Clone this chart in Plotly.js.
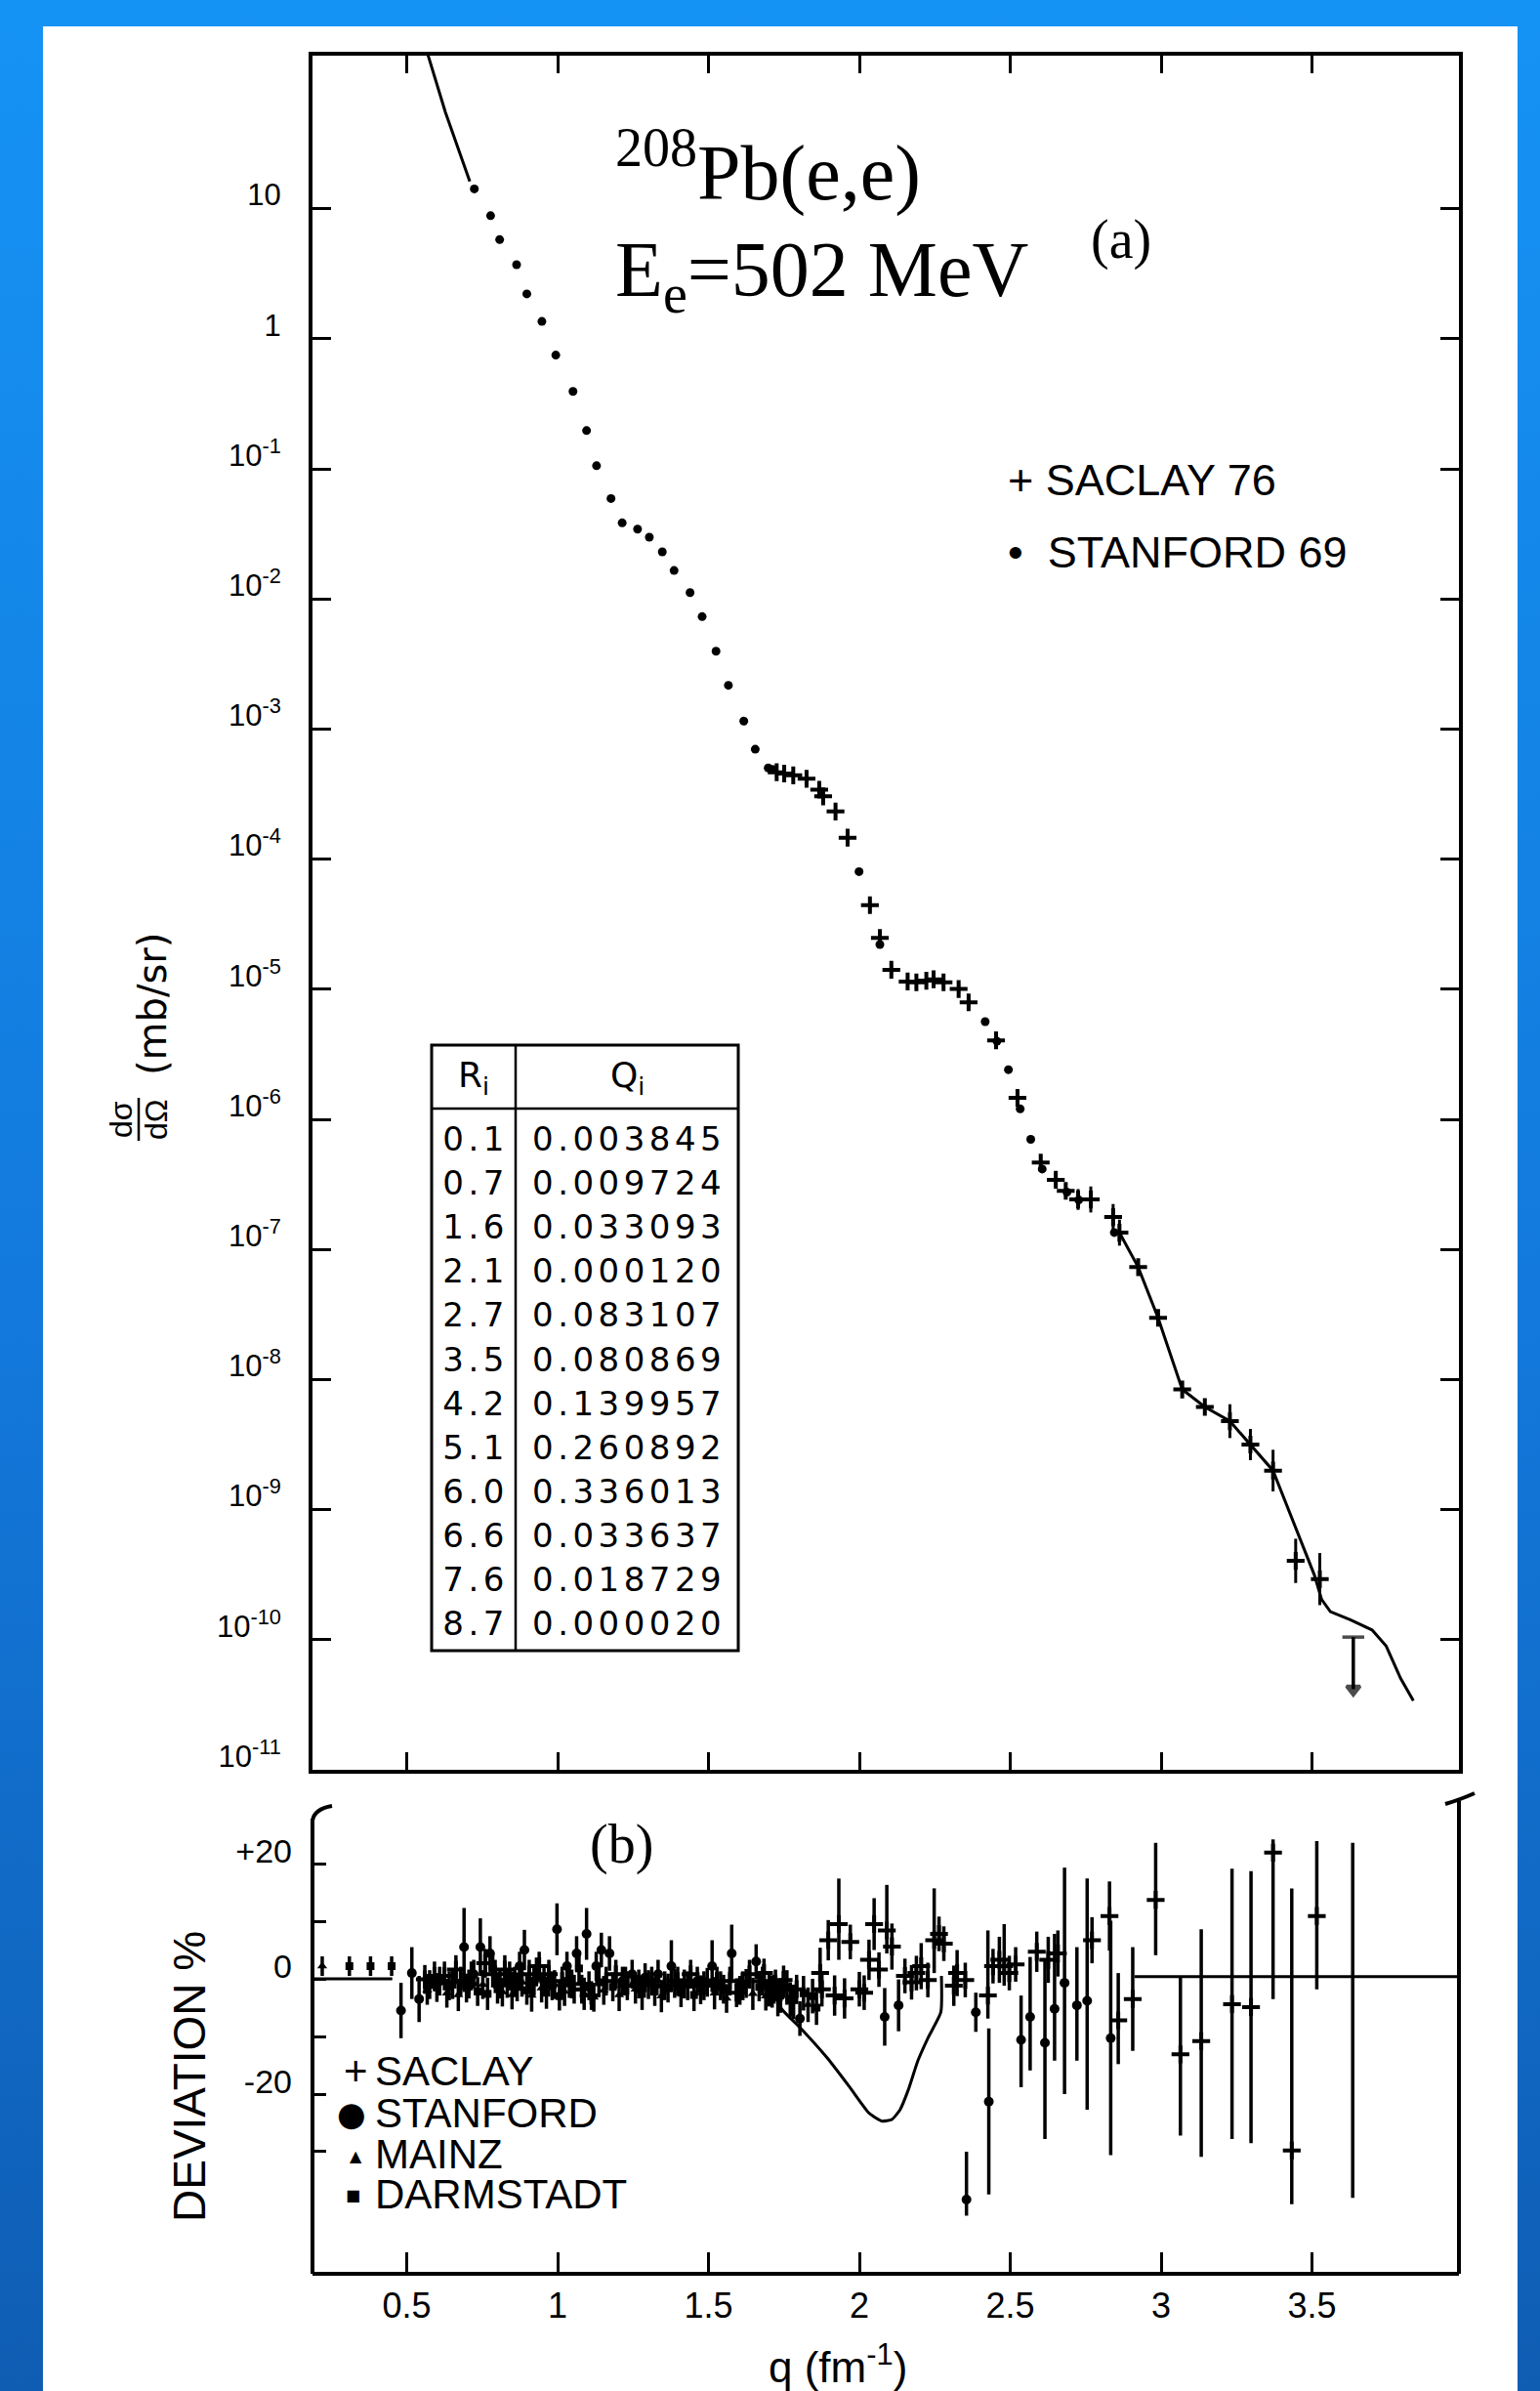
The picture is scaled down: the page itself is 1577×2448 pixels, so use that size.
<!DOCTYPE html>
<html>
<head>
<meta charset="utf-8">
<script src="https://cdn.plot.ly/plotly-3.0.1.min.js"></script>
<style>
html,body{margin:0;padding:0;}
body{width:1577px;height:2448px;position:relative;overflow:hidden;
  background:linear-gradient(to bottom,#1593f5 0%,#1379dc 55%,#0f5db3 100%);}
#panel{position:absolute;left:44px;top:27px;width:1510px;height:2421px;background:#ffffff;}
#chart{position:absolute;left:0;top:0;width:1577px;height:2448px;}
</style>
</head>
<body>
<div id="panel"></div>
<div id="chart"></div>
<script>
// ---------------- DATA ----------------
// Panel (a): 208Pb(e,e) cross section, q in fm^-1, log10 of dσ/dΩ in mb/sr
const stanfordQ = [0.724,0.778,0.808,0.864,0.898,0.948,0.994,1.051,1.096,1.129,1.177,1.214,1.265,1.304,1.347,1.386,1.439,1.479,1.525,1.566,1.617,1.655,1.698,1.712,1.999,2.068,2.417,2.456,2.494,2.533,2.568,2.606,2.688,2.727,2.845];
const stanfordLog10Sigma = [1.152,0.946,0.762,0.569,0.345,0.133,-0.126,-0.405,-0.706,-0.976,-1.228,-1.415,-1.463,-1.525,-1.638,-1.781,-1.951,-2.136,-2.402,-2.664,-2.939,-3.155,-3.299,-3.310,-4.096,-4.656,-5.249,-5.400,-5.618,-5.920,-6.154,-6.382,-6.560,-6.620,-6.870];

const saclayQ = [1.726,1.751,1.781,1.825,1.867,1.880,1.921,1.961,2.035,2.068,2.106,2.160,2.189,2.222,2.246,2.279,2.329,2.362,2.453,2.524,2.601,2.651,2.684,2.725,2.767,2.841,2.862,2.924,2.990,3.070,3.145,3.228,3.296,3.371,3.446,3.526];
const saclayLog10Sigma = [-3.332,-3.342,-3.356,-3.382,-3.466,-3.517,-3.634,-3.835,-4.354,-4.606,-4.851,-4.941,-4.947,-4.934,-4.924,-4.947,-4.998,-5.101,-5.393,-5.835,-6.332,-6.465,-6.550,-6.616,-6.616,-6.751,-6.871,-7.136,-7.526,-8.076,-8.211,-8.320,-8.500,-8.700,-9.394,-9.534];
const saclayLog10Err = [0.04,0.04,0.04,0.04,0.04,0.05,0.05,0.05,0.05,0.05,0.04,0.03,0.03,0.03,0.03,0.03,0.04,0.05,0.05,0.06,0.06,0.05,0.05,0.08,0.10,0.10,0.10,0.03,0.03,0.03,0.03,0.13,0.12,0.16,0.17,0.20];

const theoryLowQ = [0.568,0.628,0.709];
const theoryLowLog10Sigma = [2.20,1.742,1.210];
const theoryHighQ = [2.847,2.862,2.924,2.990,3.070,3.145,3.228,3.296,3.371,3.383,3.508,3.532,3.561,3.627,3.699,3.746,3.794,3.836];
const theoryHighLog10Sigma = [-6.856,-6.871,-7.136,-7.526,-8.076,-8.211,-8.320,-8.500,-8.700,-8.771,-9.503,-9.691,-9.784,-9.847,-9.925,-10.049,-10.298,-10.469];

const limitQ = [3.637];
const limitLog10Top = [-9.98];
const limitLog10Bottom = [-10.38];

// Table of fit parameters
const tableR = ['0.1','0.7','1.6','2.1','2.7','3.5','4.2','5.1','6.0','6.6','7.6','8.7'];
const tableQ = ['0.003845','0.009724','0.033093','0.000120','0.083107','0.080869','0.139957','0.260892','0.336013','0.033637','0.018729','0.000020'];

// Panel (b): deviation in %
const devStanfordQ = [0.481,0.517,0.541,0.576,0.609,0.641,0.690,0.722,0.744,0.776,0.809,0.841,0.874,0.890,0.922,0.955,0.982,0.998,1.031,1.063,1.096,1.128,1.145,1.172,1.215,1.247,1.290,1.333,1.377,1.420,1.463,1.512,1.550,1.577,1.614,1.658,1.701,1.739,1.771,1.803,2.084,2.130,2.355,2.386,2.429,2.536,2.566,2.615,2.647,2.680,2.721,2.755,2.833];
const devStanford = [-5.5,1.0,-3.5,-1.0,-0.4,-1.2,5.5,0.8,5.5,4.4,-0.9,0.5,2.2,5.0,-0.4,-0.4,-1.2,8.6,2.2,4.4,7.8,2.2,5.0,4.4,-0.4,0.8,0.2,0.8,2.2,-0.9,-0.4,2.2,-1.8,4.4,-1.2,3.0,-1.8,-2.9,-3.6,-6.9,-6.6,-4.6,-38.3,-5.8,-21.3,-10.6,-6.6,-11.1,-5.2,-0.7,-4.6,-3.8,-10.3];
const devStanfordErrPlus = [4.8,4.5,4.0,2.5,2.5,2.5,6.8,2.5,5.0,3.0,2.5,2.5,2.5,3.5,2.5,2.5,2.5,4.5,2.5,3.0,4.5,2.5,3.0,3.0,2.5,2.5,2.5,2.5,4.5,2.5,2.5,4.5,2.5,5.0,2.5,3.0,3.0,3.0,3.0,3.0,5.0,4.5,8.3,3.4,12.7,7.7,10.4,14.4,13.0,20.0,10.1,21.2,20.4];
const devStanfordErrMinus = [4.8,4.5,4.0,2.5,2.5,2.5,6.8,2.5,5.0,3.0,2.5,2.5,2.5,3.5,2.5,2.5,2.5,4.5,2.5,3.0,4.5,2.5,3.0,3.0,2.5,2.5,2.5,2.5,4.5,2.5,2.5,4.5,2.5,5.0,2.5,3.0,3.0,3.0,3.0,3.0,5.0,4.5,2.8,3.4,16.1,8.2,9.3,16.7,9.0,19.3,9.6,18.9,20.3];

const devSaclayQ = [0.560,0.592,0.625,0.663,0.679,0.706,0.760,0.793,0.825,0.858,0.906,0.939,0.971,1.015,1.047,1.080,1.112,1.161,1.193,1.231,1.269,1.312,1.355,1.398,1.441,1.485,1.528,1.571,1.593,1.636,1.679,1.722,1.684,1.717,1.749,1.792,
  1.870,1.876,1.897,1.918,1.932,1.951,1.970,2.000,2.016,2.032,2.049,2.065,2.091,2.108,2.151,2.173,2.189,2.205,2.227,2.248,2.264,2.280,2.313,2.324,2.351,2.426,2.443,2.464,2.480,2.497,2.518,2.588,2.626,2.658,2.771,2.829,2.858,2.906,2.982,3.064,3.133,3.235,3.298,3.371,3.433,3.516];
const devSaclay = [-0.1,0.5,0.5,1.6,-0.4,-0.9,2.7,0.8,1.6,-0.4,0.8,2.2,0.8,-0.4,-0.9,-1.8,-2.9,-0.4,0.8,-1.2,-0.9,-0.4,-1.2,-0.4,0.8,-1.2,-0.4,-0.4,-2.4,0.8,-0.4,-0.9,1.0,-1.8,-0.2,-1.8,
  1.0,-1.8,6.7,-2.9,9.5,-3.4,6.4,-1.8,-2.4,3.3,9.5,1.6,8.4,5.6,0.5,-0.6,1.0,2.2,-0.2,6.7,7.8,6.1,-1.2,1.0,-0.2,-2.9,2.2,3.3,2.2,1.0,2.5,4.7,3.3,4.4,6.7,10.9,-7.2,-3.5,13.7,-13.1,-10.8,-4.4,-4.9,21.9,-29.8,10.9];
const devSaclayErrPlus = [2.5,2.5,2.5,2.5,2.5,2.5,2.5,2.5,2.5,2.5,2.5,2.5,2.5,2.5,2.5,2.5,2.5,2.5,2.5,2.5,2.5,2.5,2.5,2.5,2.5,2.5,2.5,2.5,2.5,2.5,2.5,2.5,2.5,2.5,2.5,2.5,
  4.4,3.0,3.5,3.5,7.9,3.5,3.0,3.0,3.0,3.5,4.5,3.0,7.9,4.0,3.0,3.0,3.0,4.0,3.0,9.0,3.0,3.0,3.5,4.0,3.0,11.3,3.0,4.0,7.3,3.0,3.0,3.5,4.0,4.0,4.0,6.0,8.2,9.0,9.9,13.6,19.4,23.5,23.6,2.3,45.5,13.0];
const devSaclayErrMinus = [2.5,2.5,2.5,2.5,2.5,2.5,2.5,2.5,2.5,2.5,2.5,2.5,2.5,2.5,2.5,2.5,2.5,2.5,2.5,2.5,2.5,2.5,2.5,2.5,2.5,2.5,2.5,2.5,2.5,2.5,2.5,2.5,2.5,2.5,2.5,2.5,
  3.5,3.0,3.5,3.5,6.2,3.5,3.0,3.0,3.0,3.5,4.5,3.0,4.0,4.0,3.0,3.0,3.0,4.0,3.0,5.7,3.0,3.0,3.5,4.0,3.0,4.0,3.0,4.0,3.4,3.0,3.0,3.5,4.0,4.0,4.0,6.0,7.6,9.0,9.6,14.1,20.1,23.4,23.6,25.4,9.3,12.7];
const devBarOnlyQ = [3.635];
const devBarOnly = [-7.2];
const devBarOnlyErr = [30.8];

// Mainz and Darmstadt points inside the dense band
const devMainzQ = [0.220,0.568,0.633,0.671,0.714,0.752,0.785,0.817,0.849,0.882,0.914,0.947,0.990,1.023,1.055,1.088,1.120,1.153,1.204,1.258,1.301,1.344,1.388,1.431,1.474,1.520,1.560,1.604,1.647,1.690,1.730,1.782,1.830];
const devMainz = [2.2,-2.0,-2.5,-2.8,0.5,-1.0,1.5,-2.3,-2.8,-0.6,-2.9,-1.6,-1.0,-2.2,-1.8,-2.6,-3.2,-2.0,-2.8,-1.8,-1.0,-3.0,-0.8,-1.2,-1.9,-2.5,-3.4,-2.0,-2.6,-3.0,-3.5,-4.0,-4.5];
const devMainzErr = [1.7,2.5,2.5,2.8,2.5,2.5,3.0,2.5,2.5,2.5,2.8,2.5,2.5,2.5,2.5,2.8,2.5,2.5,2.8,2.5,2.5,2.8,2.5,2.5,2.5,2.8,2.5,2.5,2.8,2.5,3.0,3.0,3.0];
const devDarmstadtQ = [0.310,0.380,0.450,0.600,0.652,0.698,0.735,0.768,0.801,0.833,0.866,0.898,0.930,0.963,1.006,1.039,1.071,1.104,1.137,1.183,1.225,1.280,1.322,1.366,1.409,1.452,1.496,1.540,1.625,1.668,1.711,1.760,1.815,1.845,1.858];
const devDarmstadt = [2.2,2.2,2.2,-1.5,-1.0,-1.6,-2.2,-2.6,-1.8,-0.8,-1.4,-2.0,1.2,-2.4,-3.0,-0.8,1.8,-1.2,-0.6,-1.4,-0.4,-2.6,-2.2,-1.6,-2.4,-2.8,-0.6,-1.2,-0.8,-1.4,-2.2,-1.5,-2.5,-3.0,-5.0];
const devDarmstadtErr = [1.7,1.7,1.7,2.5,2.5,2.5,2.5,2.8,2.5,2.5,2.5,2.5,2.5,2.8,2.5,2.5,3.0,2.5,2.5,2.5,2.5,2.8,2.5,2.5,2.5,2.8,2.5,2.5,2.5,2.5,2.8,3.0,3.0,3.0,3.0];

const refLeftQ = [0.188,0.452];
const refLeftDev = [0.0,0.0];
const refRightQ = [2.912,3.987];
const refRightDev = [0.4,0.4];
const dipQ = [1.700,1.742,1.806,1.893,1.968,2.032,2.075,2.108,2.135,2.162,2.194,2.227,2.270,2.272];
const dipDev = [0.0,-5.2,-8.6,-13.7,-18.8,-23.3,-24.7,-24.4,-22.7,-19.3,-14.2,-10.3,-5.8,0.5];

// Ticks
const qTicks = [0.5,1,1.5,2,2.5,3,3.5];
const qTickText = ['0.5','1','1.5','2','2.5','3','3.5'];
const sigmaTickExp = [1,0,-1,-2,-3,-4,-5,-6,-7,-8,-9,-10,-11];
const devTicks = [20,10,0,-10,-20,-30];
const devTickText = ['+20','','0','','-20',''];

// ---------------- FIGURE ----------------
const W = 1577, H = 2448;
const X = p => p / W;
const Y = p => 1 - p / H;
const pow10 = a => a.map(v => Math.pow(10, v));
const BLACK = '#000000';
const SANS = 'Liberation Sans, Arial, sans-serif';
const SERIF = 'Liberation Serif, Times New Roman, serif';
const ROUND = 'DejaVu Sans, Verdana, sans-serif';

const sigmaTickVals = sigmaTickExp.map(e => Math.pow(10, e));
const sigmaTickText = sigmaTickExp.map(e => e === 1 ? '10' : (e === 0 ? '1' : '10<sup>' + e + '</sup>'));

const saclaySigma = pow10(saclayLog10Sigma);

const traces = [
  {type:'scatter', mode:'lines', x:theoryLowQ, y:pow10(theoryLowLog10Sigma), xaxis:'x', yaxis:'y',
   line:{color:BLACK, width:3}, hoverinfo:'skip', showlegend:false},
  {type:'scatter', mode:'lines', x:theoryHighQ, y:pow10(theoryHighLog10Sigma), xaxis:'x', yaxis:'y',
   line:{color:BLACK, width:3}, hoverinfo:'skip', showlegend:false},
  {type:'scatter', mode:'markers', name:'STANFORD 69', x:stanfordQ, y:pow10(stanfordLog10Sigma), xaxis:'x', yaxis:'y',
   marker:{symbol:'circle', size:9, color:BLACK}, showlegend:false},
  {type:'scatter', mode:'markers', name:'SACLAY 76', x:saclayQ, y:saclaySigma, xaxis:'x', yaxis:'y',
   marker:{symbol:'cross-thin', size:13, color:BLACK, line:{color:BLACK, width:4}},
   error_y:{type:'data', symmetric:false,
     array: saclaySigma.map((v,i) => v*(Math.pow(10, saclayLog10Err[i]) - 1)),
     arrayminus: saclaySigma.map((v,i) => v*(1 - Math.pow(10, -saclayLog10Err[i]))),
     color:BLACK, thickness:3, width:0}, showlegend:false},
  {type:'scatter', mode:'lines+markers', x:[limitQ[0], limitQ[0]], y:[Math.pow(10,limitLog10Top[0]), Math.pow(10,limitLog10Bottom[0])],
   xaxis:'x', yaxis:'y', line:{color:BLACK, width:3.5},
   marker:{symbol:['line-ew','triangle-down'], size:[16,12], color:BLACK, line:{color:BLACK, width:3.5}}, showlegend:false},

  // panel (b)
  {type:'scatter', mode:'lines', x:refLeftQ, y:refLeftDev, xaxis:'x2', yaxis:'y2', line:{color:BLACK, width:3}, showlegend:false},
  {type:'scatter', mode:'lines', x:refRightQ, y:refRightDev, xaxis:'x2', yaxis:'y2', line:{color:BLACK, width:3}, showlegend:false},
  {type:'scatter', mode:'lines', x:dipQ, y:dipDev, xaxis:'x2', yaxis:'y2', line:{color:BLACK, width:3, shape:'spline', smoothing:0.5}, showlegend:false},
  {type:'scatter', mode:'markers', name:'MAINZ', x:devMainzQ, y:devMainz, xaxis:'x2', yaxis:'y2',
   marker:{symbol:'triangle-up', size:9, color:BLACK},
   error_y:{type:'data', array:devMainzErr, color:BLACK, thickness:3.5, width:0}, showlegend:false},
  {type:'scatter', mode:'markers', name:'DARMSTADT', x:devDarmstadtQ, y:devDarmstadt, xaxis:'x2', yaxis:'y2',
   marker:{symbol:'square', size:8, color:BLACK},
   error_y:{type:'data', array:devDarmstadtErr, color:BLACK, thickness:3.5, width:0}, showlegend:false},
  {type:'scatter', mode:'markers', name:'STANFORD', x:devStanfordQ, y:devStanford, xaxis:'x2', yaxis:'y2',
   marker:{symbol:'circle', size:10, color:BLACK},
   error_y:{type:'data', symmetric:false, array:devStanfordErrPlus, arrayminus:devStanfordErrMinus, color:BLACK, thickness:3.5, width:0}, showlegend:false},
  {type:'scatter', mode:'markers', name:'SACLAY', x:devSaclayQ, y:devSaclay, xaxis:'x2', yaxis:'y2',
   marker:{symbol:'cross-thin', size:13, color:BLACK, line:{color:BLACK, width:4}},
   error_y:{type:'data', symmetric:false, array:devSaclayErrPlus, arrayminus:devSaclayErrMinus, color:BLACK, thickness:3.5, width:0}, showlegend:false},
  {type:'scatter', mode:'markers', x:devBarOnlyQ, y:devBarOnly, xaxis:'x2', yaxis:'y2',
   marker:{size:1, color:BLACK}, error_y:{type:'data', array:devBarOnlyErr, color:BLACK, thickness:3.5, width:0}, showlegend:false}
];

const xRange = [0.5 + (320 - 416.5)/309, 0.5 + (1494 - 416.5)/309];

function ann(text, x, y, font, extra) {
  return Object.assign({text:text, x:X(x), y:Y(y), xref:'paper', yref:'paper', showarrow:false,
    xanchor:'center', yanchor:'middle', font:Object.assign({color:BLACK}, font)}, extra || {});
}

const annotations = [];
// table (first, so indices are known)
annotations.push(ann('R<sub>i</sub>', 485, 1103, {family:ROUND, size:36}));
annotations.push(ann('Q<sub>i</sub>', 642, 1103, {family:ROUND, size:36}));
const tableStart = annotations.length;
tableR.forEach((r,i) => {
  annotations.push(ann(r, 487, 1166 + i*45.1, {family:ROUND, size:34}));
  annotations.push(ann(tableQ[i], 644, 1166 + i*45.1, {family:ROUND, size:34}));
});
const tableEnd = annotations.length;

annotations.push(ann('<sup>208</sup>Pb(e,e)', 628, 224, {family:SERIF, size:80}, {xanchor:'left', yanchor:'bottom'}));
annotations.push(ann('E<sub>e</sub>=502 MeV', 628, 334, {family:SERIF, size:80}, {xanchor:'left', yanchor:'bottom'}));
annotations.push(ann('(a)', 1148, 246, {family:SERIF, size:56}));
annotations.push(ann('+ SACLAY 76', 1030, 492, {family:SANS, size:45}, {xanchor:'left'}));
annotations.push(ann('•  STANFORD 69', 1030, 565, {family:SANS, size:45}, {xanchor:'left'}));
annotations.push(ann('(b)', 636, 1888, {family:SERIF, size:56}));

// bottom legend
annotations.push(ann('+', 364, 2120, {family:SANS, size:42}));
annotations.push(ann('SACLAY', 382, 2120, {family:SANS, size:42}, {xanchor:'left'}));
annotations.push(ann('●', 360, 2164, {family:ROUND, size:34}));
annotations.push(ann('STANFORD', 382, 2163, {family:SANS, size:42}, {xanchor:'left'}));
annotations.push(ann('▲', 364, 2207, {family:ROUND, size:16}));
annotations.push(ann('MAINZ', 382, 2205, {family:SANS, size:42}, {xanchor:'left'}));
annotations.push(ann('■', 361, 2247, {family:ROUND, size:16}));
annotations.push(ann('DARMSTADT', 382, 2246, {family:SANS, size:42}, {xanchor:'left'}));

// axis titles
annotations.push(ann('DEVIATION %', 194, 2126, {family:SANS, size:46}, {textangle:-90}));
annotations.push(ann('q (fm<sup>-1</sup>)', 858, 2420, {family:SANS, size:44}));
annotations.push(ann('dσ', 124, 1146, {family:SANS, size:32}, {textangle:-90}));
annotations.push(ann('dΩ', 160, 1146, {family:SANS, size:32}, {textangle:-90}));
annotations.push(ann('(mb/sr)', 156, 1028, {family:ROUND, size:40}, {textangle:-90}));

const shapes = [
  // panel (b) left and right frame lines with hooked tops
  {type:'line', xref:'paper', yref:'paper', x0:X(320), x1:X(320), y0:Y(2328), y1:Y(1862), line:{color:BLACK, width:4}},
  {type:'path', xref:'paper', yref:'paper', path:`M ${X(320)},${Y(1864)} Q ${X(322)},${Y(1852)} ${X(340)},${Y(1849)}`, line:{color:BLACK, width:4}},
  {type:'line', xref:'paper', yref:'paper', x0:X(1494), x1:X(1494), y0:Y(2328), y1:Y(1844), line:{color:BLACK, width:4}},
  {type:'path', xref:'paper', yref:'paper', path:`M ${X(1480)},${Y(1847)} Q ${X(1494)},${Y(1843)} ${X(1510)},${Y(1836)}`, line:{color:BLACK, width:4}},
  // table
  {type:'rect', xref:'paper', yref:'paper', x0:X(442), x1:X(756), y0:Y(1690), y1:Y(1070), line:{color:BLACK, width:3}},
  {type:'line', xref:'paper', yref:'paper', x0:X(528), x1:X(528), y0:Y(1690), y1:Y(1070), line:{color:BLACK, width:2.5}},
  {type:'line', xref:'paper', yref:'paper', x0:X(442), x1:X(756), y0:Y(1135), y1:Y(1135), line:{color:BLACK, width:2.5}},
  // fraction bar of dσ/dΩ
  {type:'line', xref:'paper', yref:'paper', x0:X(142), x1:X(142), y0:Y(1124), y1:Y(1168), line:{color:BLACK, width:2.5}}
];

const layout = {
  width: W, height: H,
  margin:{l:0, r:0, t:0, b:0, pad:0},
  paper_bgcolor:'rgba(0,0,0,0)', plot_bgcolor:'rgba(0,0,0,0)',
  font:{family:SANS, color:BLACK},
  showlegend:false, hovermode:false,
  xaxis:{domain:[X(320), X(1494)], range:xRange, anchor:'y', showline:true, linewidth:4, linecolor:BLACK,
    mirror:'ticks', ticks:'inside', ticklen:18, tickwidth:3, tickcolor:BLACK, tickvals:qTicks,
    showticklabels:false, showgrid:false, zeroline:false, fixedrange:true},
  yaxis:{domain:[Y(1812), Y(57)], type:'log', range:[-11, 2.176], anchor:'x', showline:true, linewidth:4, linecolor:BLACK,
    mirror:'ticks', ticks:'inside', ticklen:19, tickwidth:3, tickcolor:BLACK,
    tickvals:sigmaTickVals, ticktext:sigmaTickText, tickfont:{family:SANS, size:31, color:BLACK},
    ticklabelstandoff:22, ticklabelshift:-14, showgrid:false, zeroline:false, fixedrange:true},
  xaxis2:{domain:[X(320), X(1494)], range:xRange, anchor:'y2', showline:true, linewidth:4, linecolor:BLACK,
    ticks:'inside', ticklen:20, tickwidth:3, tickcolor:BLACK, tickvals:qTicks, ticktext:qTickText,
    tickfont:{family:SANS, size:36, color:BLACK}, ticklabelstandoff:0,
    showgrid:false, zeroline:false, fixedrange:true},
  yaxis2:{domain:[Y(2326), Y(1842)], range:[-50.85, 31.19], anchor:'x2', showline:false,
    ticks:'inside', ticklen:14, tickwidth:3, tickcolor:BLACK, tickvals:devTicks, ticktext:devTickText,
    tickfont:{family:SANS, size:34, color:BLACK}, ticklabelstandoff:20, ticklabelshift:-13,
    showgrid:false, zeroline:false, fixedrange:true},
  annotations: annotations,
  shapes: shapes
};

// letter spacing for the table digits
const css = [];
for (let i = tableStart; i < tableEnd; i++) css.push(`g.annotation[data-index="${i}"] text`);
const st = document.createElement('style');
st.textContent = css.join(',') + '{letter-spacing:4.5px;}';
document.head.appendChild(st);

Plotly.newPlot('chart', traces, layout, {staticPlot:true, displayModeBar:false});
</script>
</body>
</html>
